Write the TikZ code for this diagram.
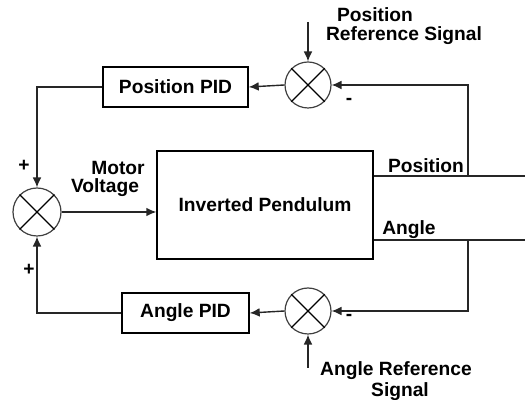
\documentclass[tikz,border=0pt]{standalone}
\usepackage{fontspec}
\setmainfont{Liberation Sans}
\usetikzlibrary{positioning,arrows.meta,calc}

\begin{document}
\begin{tikzpicture}[
    x=0.5pt, y=-0.5pt,
    >={Latex[length=5pt,width=4.4pt]},
    every node/.style={font=\fontsize{9.6}{11.5}\selectfont\bfseries},
    block/.style={draw, line width=0.7pt, minimum height=20pt, align=center, inner sep=2pt},
    sumnode/.style={draw=black!75, line width=0.6pt, circle, minimum size=23pt, inner sep=0pt},
    wire/.style={line width=0.7pt, draw=black!85},
    sign/.style={inner sep=0pt},
]
\useasboundingbox (0,0) rectangle (525,400);

% Plant
\node[block, minimum width=108pt, minimum height=54pt] (plant) at (265,205) {Inverted Pendulum};

% Controllers
\node[block, minimum width=72.5pt] (pospid) at (175.5,87) {Position PID};
\node[block, minimum width=63.5pt] (angpid) at (185.5,313) {Angle PID};

% Summing junctions
\node[sumnode, minimum size=24pt] (sumL) at (37,212) {};
\node[sumnode] (sumP) at (308,85) {};
\node[sumnode] (sumA) at (308,311) {};
\foreach \s in {sumL,sumP,sumA}{
  \draw[line width=0.6pt] (\s.north west) -- (\s.south east);
  \draw[line width=0.6pt] (\s.north east) -- (\s.south west);
}

% Outputs and taps
\coordinate (posout) at (525,176);
\coordinate (angout) at (525,240);
\coordinate (posfb) at (468,176);
\coordinate (angfb) at (468,240);
\coordinate (posref) at (308,22);
\coordinate (angref) at (308,368);

\draw[wire] (plant.east |- posout) -- (posout);
\draw[wire] (plant.east |- angout) -- (angout);
\node (poslab) at (426,166) {Position};
\node (anglab) at (409,230) {Angle};

% Position loop
\draw[wire,->] (posfb) |- (sumP.east);
\draw[wire,->] (posref) -- (sumP.north);
\draw[wire,->] (sumP.west) -- (pospid.east);
\draw[wire,->] (pospid.west) -| (sumL.north);
\node (posreflab1) at (375,15) {Position};
\node (posreflab2) at (404,36) {Reference Signal};
\node[sign] (minusP) at (349,101) {-};

% Angle loop
\draw[wire,->] (angfb) |- (sumA.east);
\draw[wire,->] (angref) -- (sumA.south);
\draw[wire,->] (sumA.west) -- (angpid.east);
\draw[wire,->] (angpid.west) -| (sumL.south);
\node (angreflab1) at (396,371) {Angle Reference};
\node (angreflab2) at (400,392) {Signal};
\node[sign] (minusA) at (349,317) {-};

% Motor voltage
\draw[wire,->] (sumL.east) -- (sumL.east -| plant.west);
\node (motorlab) at (118,168) {Motor};
\node (voltlab) at (105,188) {Voltage};
\node[sign] (plusT) at (24,166) {+};
\node[sign] (plusB) at (29,270) {+};

\end{tikzpicture}
\end{document}
